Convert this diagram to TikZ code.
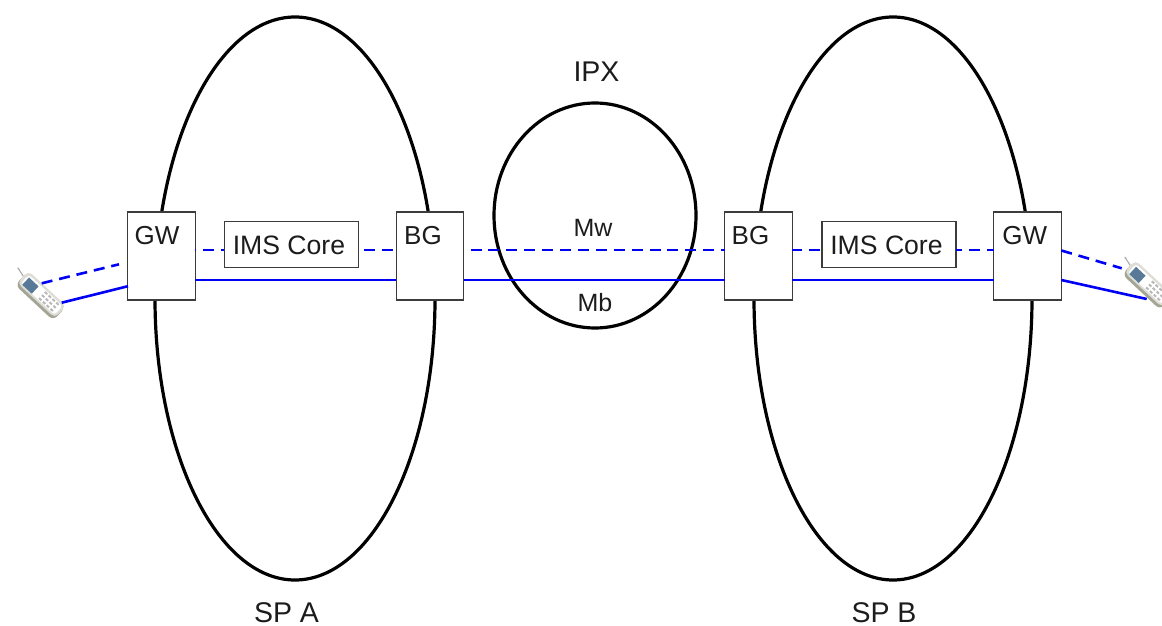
\documentclass[tikz,border=0pt]{standalone}
\usepackage{fontspec}
\usetikzlibrary{shapes.geometric}
\setmainfont{Liberation Sans}
\definecolor{linkblue}{RGB}{0,0,245}
\definecolor{inktext}{RGB}{28,28,28}
\definecolor{boxline}{RGB}{60,60,60}
\definecolor{phonescreen}{RGB}{88,122,152}
\definecolor{phoneedge}{RGB}{165,165,150}
\definecolor{phonebody}{RGB}{222,222,215}
\tikzset{
  x=1pt,y=-1pt,
  netoval/.style={draw=black,line width=3.2pt,fill=none,ellipse,inner sep=0pt,outer sep=0pt},
  gatebox/.style={draw=boxline,line width=1.2pt,fill=white,rectangle,inner sep=0pt,outer sep=0pt,minimum width=67.6pt,minimum height=88pt},
  corebox/.style={draw=boxline,line width=1.2pt,fill=white,rectangle,inner sep=0pt,outer sep=0pt,minimum width=134pt,minimum height=46pt},
  boxlabel/.style={inner sep=0pt,font=\fontsize{26}{28}\selectfont,text=inktext},
  corelabel/.style={inner sep=0pt,font=\fontsize{26.6}{28}\selectfont,text=inktext},
  smalllabel/.style={inner sep=0pt,font=\fontsize{25}{27}\selectfont,text=inktext},
  biglabel/.style={inner sep=0pt,font=\fontsize{28.5}{30}\selectfont,text=inktext},
  dashlink/.style={draw=linkblue,line width=2.6pt,dash pattern=on 11pt off 6.9pt},
  solidlink/.style={draw=linkblue,line width=2.6pt},
}
\newcommand{\handset}[2]{%
  \begin{scope}[shift={(#1,#2)},rotate=-43]
    \draw[black!35,line width=1pt] (-36,-4.5) -- (-26,-2);
    \fill[black!30] (-34.5,-4.2) circle (1.1);
    \fill[phoneedge,rounded corners=6pt] (-26,-8) rectangle (26,10);
    \fill[phonebody,rounded corners=5pt] (-26,-9.5) rectangle (25.5,7);
    \fill[white,rounded corners=3pt] (-23,-7) rectangle (23,5);
    \fill[phonescreen] (-21,-5) rectangle (-8,5);
    \foreach \i in {0,1,2,3}{\foreach \j in {-1,0,1}{
      \fill[black!28] (2+\i*5.2-1.6,-1+\j*4.2-1) rectangle (2+\i*5.2+1.6,-1+\j*4.2+1);}}
  \end{scope}}
\begin{document}
\begin{tikzpicture}
\useasboundingbox (0,0) rectangle (1162,626);
\clip (0,0) rectangle (1162,626);
\fill[white] (0,0) rectangle (1162,626);
% network ovals
\node[netoval,minimum width=280pt,minimum height=563pt] (spa) at (295,298.5) {};
\node[netoval,minimum width=278pt,minimum height=563pt] (spb) at (893,298.5) {};
\node[netoval,minimum width=202pt,minimum height=225pt] (ipx) at (595,215.5) {};
% phones
\handset{41}{295.5}
\handset{1148}{284.8}
% free ends
\coordinate (pAd) at (41.7,283.3);
\coordinate (pAs) at (61.7,302.7);
\coordinate (pBd) at (1121.7,268.3);
\coordinate (pBs) at (1146.7,299);
\coordinate (gAd) at (119,264.3);
\coordinate (gAs) at (128,286.2);
% boxes
\node[gatebox] (gwa) at (161.5,256) {};
\node[gatebox] (bga) at (430,256) {};
\node[gatebox] (bgb) at (758.4,256) {};
\node[gatebox] (gwb) at (1027.5,256) {};
\node[corebox] (imsa) at (291.3,244.3) {};
\node[corebox] (imsb) at (889,244.3) {};
% links
\draw[dashlink] (pAd) -- (gAd);
\draw[solidlink] (pAs) -- (gAs);
\draw[dashlink,dash phase=9.9] (gwa.east |- 0,250) -- (imsa.west |- 0,250);
\draw[dashlink,dash phase=11.9] (imsa.east |- 0,250) -- (bga.west |- 0,250);
\draw[dashlink,dash phase=11.2] (bga.east |- 0,250) -- (bgb.west |- 0,250);
\draw[dashlink,dash phase=1.5] (bgb.east |- 0,250) -- (imsb.west |- 0,250);
\draw[dashlink,dash phase=5] (imsb.east |- 0,250) -- (gwb.west |- 0,250);
\draw[dashlink] (gwb.east |- 0,250.5) -- (pBd);
\draw[solidlink] (gwa.east |- 0,280) -- (bga.west |- 0,280);
\draw[solidlink] (bga.east |- 0,280) -- (bgb.west |- 0,280);
\draw[solidlink] (bgb.east |- 0,280) -- (gwb.west |- 0,280);
\draw[solidlink] (gwb.east |- 0,280) -- (pBs);
% labels
\node[corelabel] (limsa) at (289,245) {IMS Core};
\node[corelabel] (limsb) at (886.5,245) {IMS Core};
\node[boxlabel] (lgwa) at (157,236) {GW};
\node[boxlabel] (lbga) at (423,236) {BG};
\node[boxlabel] (lbgb) at (750.5,236) {BG};
\node[boxlabel] (lgwb) at (1024.7,236) {GW};
\node[smalllabel] (lmw) at (593,228) {Mw};
\node[smalllabel] (lmb) at (595,303) {Mb};
\node[biglabel] (lipx) at (596.5,72) {IPX};
\node[biglabel] (lspa) at (286.5,612.3) {SP A};
\node[biglabel] (lspb) at (884,612.3) {SP B};
\end{tikzpicture}
\end{document}
